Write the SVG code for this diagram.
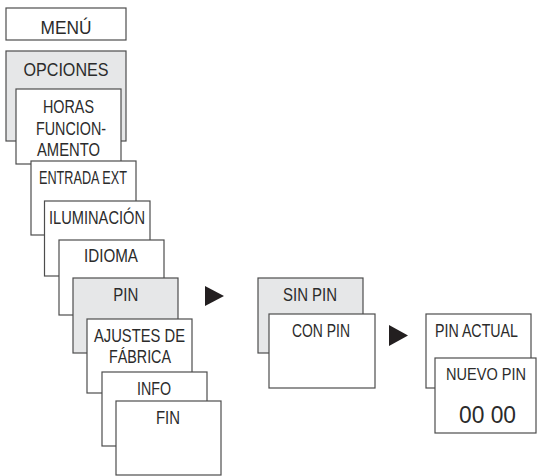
<svg xmlns="http://www.w3.org/2000/svg" width="537" height="476" viewBox="0 0 537 476">
<style>
.b{fill:#fff;stroke:#4d4d4d;stroke-width:1.2}
.g{fill:#e6e7e8;stroke:#4d4d4d;stroke-width:1.2}
text{font-family:"Liberation Sans","Arial",sans-serif;font-size:19px;fill:#2b2b2b;text-anchor:middle}
.s{font-size:17.5px}
.t{font-size:16.5px}
.arr{fill:#231f20}
</style>
<rect width="537" height="476" fill="#fff"/>
<g id="menu"><rect class="b" x="6" y="8" width="120" height="32"/><text x="66" y="34" textLength="51" lengthAdjust="spacingAndGlyphs">MENÚ</text></g>
<g id="opciones"><rect class="g" x="6" y="51" width="120" height="90"/><text x="66" y="76" textLength="85" lengthAdjust="spacingAndGlyphs">OPCIONES</text></g>
<g id="horas"><rect class="b" x="16" y="89" width="105" height="75"/><text x="68.5" y="113" textLength="51" lengthAdjust="spacingAndGlyphs">HORAS</text><text x="71" y="135" textLength="70" lengthAdjust="spacingAndGlyphs">FUNCION-</text><text x="68.5" y="156" textLength="63" lengthAdjust="spacingAndGlyphs">AMENTO</text></g>
<g id="entrada"><rect class="b" x="31" y="161" width="105" height="74"/><text x="83" y="184" textLength="88" lengthAdjust="spacingAndGlyphs">ENTRADA EXT</text></g>
<g id="iluminacion"><rect class="b" x="44.5" y="201" width="105.5" height="75"/><text x="97" y="224" textLength="96" lengthAdjust="spacingAndGlyphs">ILUMINACIÓN</text></g>
<g id="idioma"><rect class="b" x="59" y="240" width="105" height="75"/><text x="111" y="262" textLength="54" lengthAdjust="spacingAndGlyphs">IDIOMA</text></g>
<g id="pin"><rect class="g" x="73" y="278" width="105" height="75"/><text x="125.8" y="300.5" textLength="25" lengthAdjust="spacingAndGlyphs">PIN</text></g>
<g id="ajustes"><rect class="b" x="87" y="319" width="105" height="74"/><text x="139.5" y="342" textLength="91" lengthAdjust="spacingAndGlyphs">AJUSTES DE</text><text x="140" y="363" textLength="62" lengthAdjust="spacingAndGlyphs">FÁBRICA</text></g>
<g id="info"><rect class="b" x="102" y="372" width="105" height="74"/><text x="154" y="395" textLength="34" lengthAdjust="spacingAndGlyphs">INFO</text></g>
<g id="fin"><rect class="b" x="116" y="401" width="105" height="74"/><text x="168" y="424" textLength="24" lengthAdjust="spacingAndGlyphs">FIN</text></g>
<g id="sinpin"><rect class="g" x="258" y="278" width="105" height="75"/><text x="310" y="301" textLength="54" lengthAdjust="spacingAndGlyphs">SIN PIN</text></g>
<g id="conpin"><rect class="b" x="269" y="314" width="106" height="74"/><text x="321" y="337" textLength="58" lengthAdjust="spacingAndGlyphs">CON PIN</text></g>
<g id="pinactual"><rect class="b" x="426" y="314" width="105" height="74"/><text class="s" x="476.5" y="337" textLength="83" lengthAdjust="spacingAndGlyphs">PIN ACTUAL</text></g>
<g id="nuevopin"><rect class="b" x="435" y="358" width="101" height="75"/><text class="t" x="486" y="380" textLength="80" lengthAdjust="spacingAndGlyphs">NUEVO PIN</text><text x="487.5" y="423" style="font-size:23px" textLength="57" lengthAdjust="spacingAndGlyphs">00 00</text></g>
<g id="connectors">
<polygon class="arr" points="205,286 224,296 205,306"/>
<polygon class="arr" points="389,325 408,335.5 389,346"/>
</g>
</svg>
